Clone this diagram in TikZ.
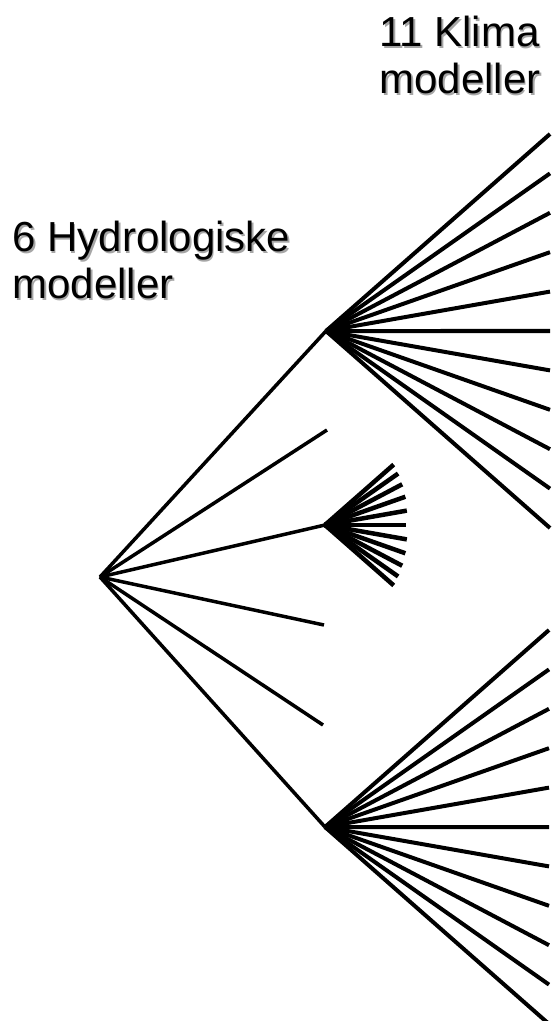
\documentclass[tikz,border=0pt]{standalone}
\usepackage{fontspec}
\setmainfont{Liberation Sans}

\newcommand{\shadowed}[1]{\leavevmode\rlap{\kern0.8pt\raisebox{-0.8pt}{\textcolor{black!35}{#1}}}#1}

\tikzset{
  branch/.style={line width=1.75pt},
  fanline/.style={line width=2pt},
  minifan/.style={line width=2.25pt},
  titletext/.style={anchor=base west, inner sep=0pt, align=left,
    font=\fontsize{21}{23.5}\selectfont},
}

\begin{document}
\begin{tikzpicture}[x=0.5pt,y=-0.5pt]
\useasboundingbox (0,0) rectangle (554,1021);
% titles
\node[titletext] (klima) at (379,94) {\shadowed{11 Klima}\\\shadowed{modeller}};
\node[titletext] (hydro) at (12,299) {\shadowed{6 Hydrologiske}\\\shadowed{modeller}};
% hydrological models
\coordinate (root) at (100,577);
\coordinate (hubA) at (326,331);
\coordinate (h2) at (327,430);
\coordinate (hubB) at (325,525);
\coordinate (h4) at (324,625);
\coordinate (h5) at (323,725);
\coordinate (hubC) at (325,827);
\foreach \h in {hubA,h2,hubB,h4,h5,hubC}
  \draw[branch] (root) -- (\h);
% climate models
\foreach \i in {0,...,10} {
  \path (hubA) ++(224,{-197+39.4*\i}) coordinate (a\i);
  \path (hubC) ++(224,{-197+39.4*\i}) coordinate (c\i);
  \path (hubB) ++({atan2(-197+39.4*\i,224)}:{81+10.5*abs(\i-5)/5}) coordinate (b\i);
  \draw[fanline] (hubA) -- (a\i);
  \draw[fanline] (hubC) -- (c\i);
  \draw[minifan] (hubB) -- (b\i);
}
\end{tikzpicture}
\end{document}
